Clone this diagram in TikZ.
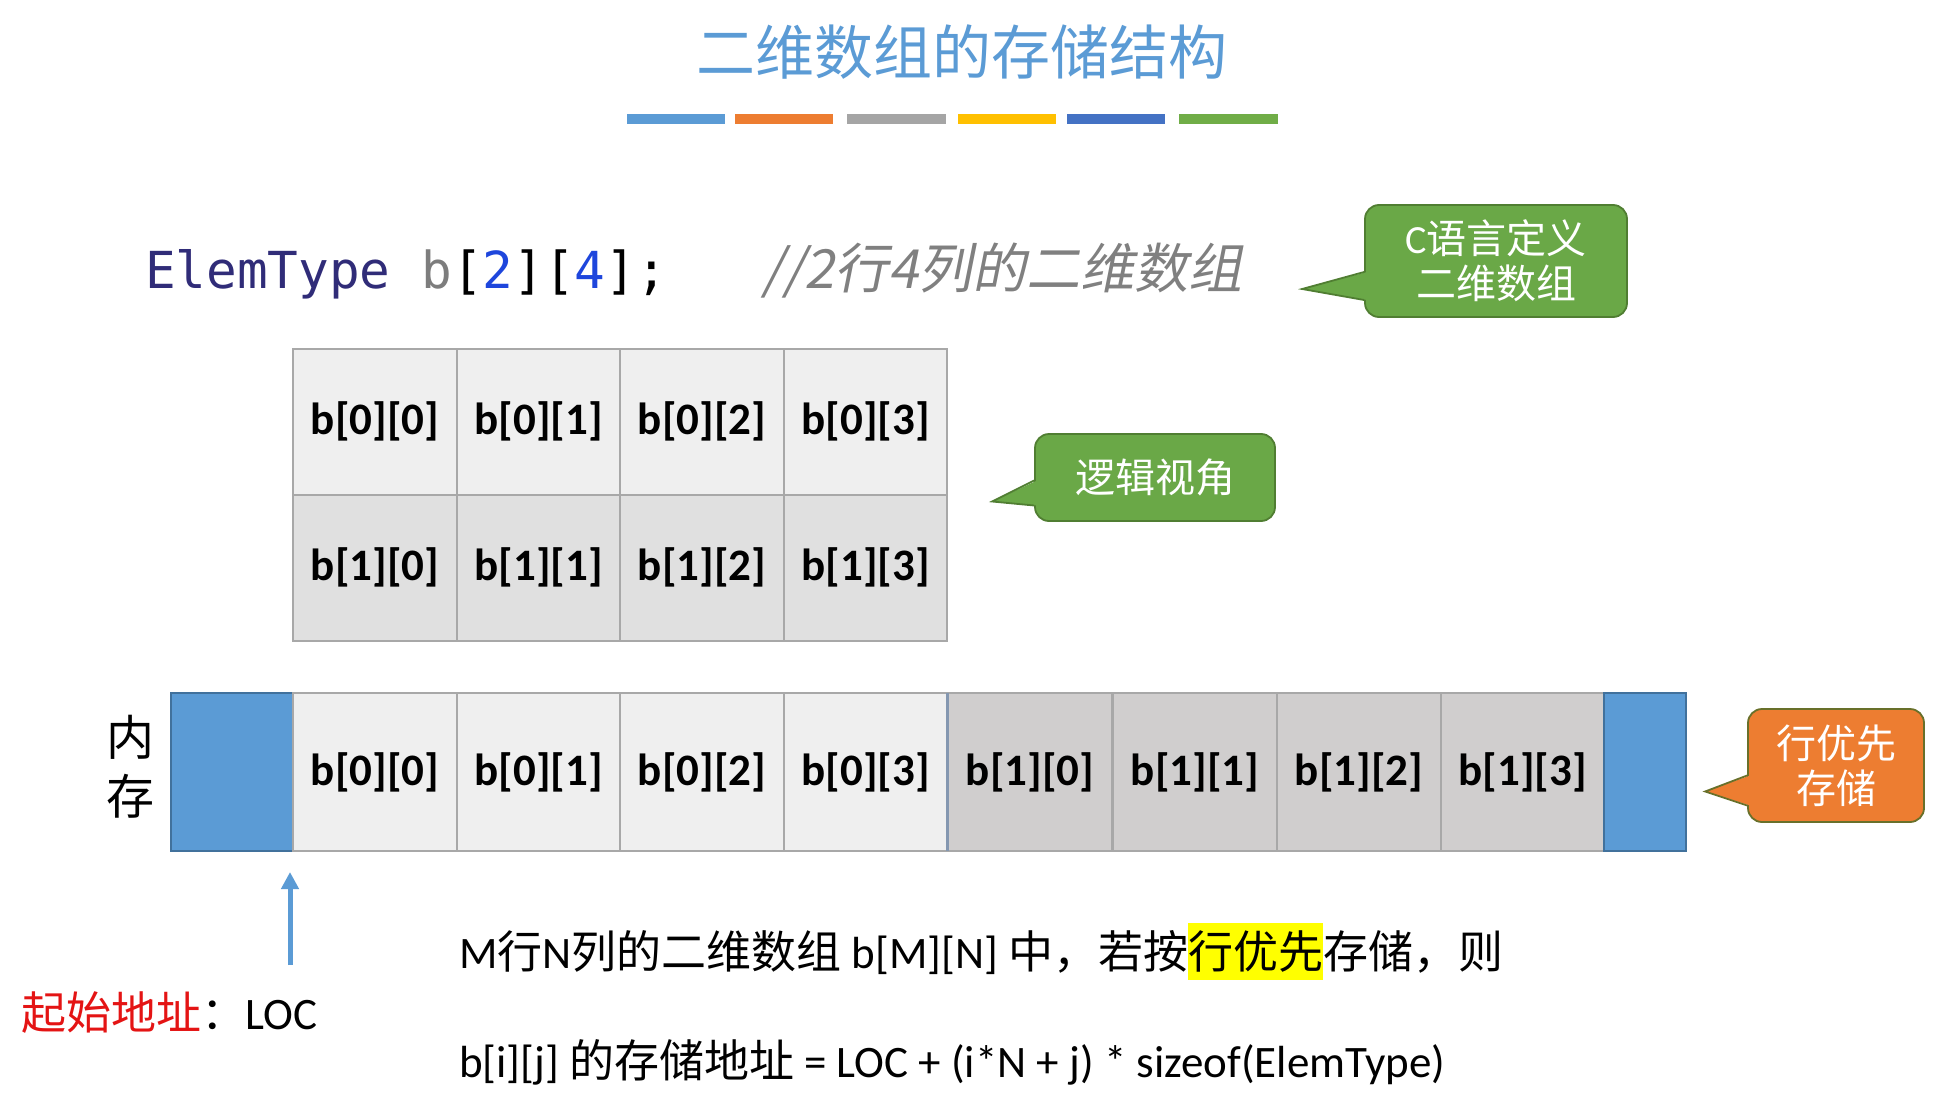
\documentclass[tikz,border=0pt]{standalone}
\usepackage{fontspec}
\setmainfont{Carlito}
\newfontfamily\cjk{Noto Sans CJK SC}
\newfontfamily\cjkit[FakeSlant=0.2]{Noto Sans CJK SC}
\newfontfamily\codefnt{DejaVu Sans Mono}
\usetikzlibrary{arrows.meta,calc}
\definecolor{titleblue}{RGB}{91,155,213}
\definecolor{barA}{RGB}{91,155,213}
\definecolor{barB}{RGB}{237,125,49}
\definecolor{barC}{RGB}{165,165,165}
\definecolor{barD}{RGB}{255,192,0}
\definecolor{barE}{RGB}{68,114,196}
\definecolor{barF}{RGB}{112,173,71}
\definecolor{elemc}{RGB}{48,44,120}
\definecolor{bgrayc}{RGB}{125,125,125}
\definecolor{dbluec}{RGB}{30,70,220}
\definecolor{cgrayc}{RGB}{128,128,128}
\definecolor{cgreen}{RGB}{106,168,71}
\definecolor{cgreendark}{RGB}{80,126,50}
\definecolor{corange}{RGB}{237,125,49}
\definecolor{corangedark}{RGB}{104,112,42}
\definecolor{rowA}{RGB}{239,239,239}
\definecolor{rowB}{RGB}{224,224,224}
\definecolor{memB}{RGB}{208,206,206}
\definecolor{gridline}{RGB}{168,168,168}
\definecolor{memblue}{RGB}{91,155,213}
\definecolor{memblueline}{RGB}{65,113,156}
\definecolor{sepline}{RGB}{132,151,176}
\definecolor{redc}{RGB}{228,20,20}
\definecolor{hl}{RGB}{255,255,0}
\begin{document}
\begin{tikzpicture}[x=1pt,y=-1pt,
  cellbase/.style={draw=gridline, line width=2pt, inner sep=0pt, outer sep=0pt,
    minimum height=146pt, font=\bfseries\fontsize{45}{54}\selectfont},
  gcellA/.style={cellbase, fill=rowA, minimum width=163.5pt},
  gcellB/.style={cellbase, fill=rowB, minimum width=163.5pt},
  mcellA/.style={cellbase, fill=rowA, minimum width=163.5pt, minimum height=158pt},
  mcellB/.style={cellbase, fill=memB, minimum width=164pt, minimum height=158pt},
  mblue/.style={draw=memblueline, fill=memblue, line width=2pt, inner sep=0pt, outer sep=0pt, minimum height=158pt},
  callout/.style={rounded corners=14pt, line width=1.8pt, inner sep=0pt, align=center,
    text=white, font=\cjk\fontsize{40}{45}\selectfont},
  plain/.style={inner sep=0pt, outer sep=0pt},
  upArrow/.style={draw=memblue, line width=5pt, -{Triangle[width=17pt,length=17pt]}}
]
\useasboundingbox (0,0) rectangle (1944,1105);

% title
\node[plain, font=\cjk\fontsize{59}{70}\selectfont, text=titleblue] (title) at (962,52) {二维数组的存储结构};
\foreach \c/\a/\b in {barA/627/725,barB/735/833,barC/847/946,barD/958/1056,barE/1067/1165,barF/1179/1278}
  \fill[\c] (\a,114) rectangle (\b,124);

% code line
\node[plain, anchor=base west, font=\codefnt\fontsize{51}{60}\selectfont] (code) at (145,288)
  {\textcolor{elemc}{ElemType} \textcolor{bgrayc}{b}[\textcolor{dbluec}{2}][\textcolor{dbluec}{4}];};
\node[plain, anchor=base west, text=cgrayc, font=\cjkit\fontsize{54}{60}\selectfont] (comment) at (762,288)
  {//2行4列的二维数组};

% callout 1
\node[callout, fill=cgreen, draw=cgreendark, minimum width=262pt, minimum height=112pt] (c1) at (1496,261)
  {{\rmfamily C}语言定义\\二维数组};
\fill[cgreen] ($(c1.west)+(3,11)$) -- ($(c1.west)+(-62,28)$) -- ($(c1.west)+(3,39)$) -- cycle;
\draw[cgreendark, line width=1.8pt] ($(c1.west)+(0,11)$) -- ($(c1.west)+(-62,28)$) -- ($(c1.west)+(0,39)$);

% logical grid
\foreach \i/\x in {0/375,1/538.5,2/702,3/865.5} {
  \node[gcellA] (g0\i) at (\x,421.5) {b[0][\i]};
  \node[gcellB] (g1\i) at (\x,567.5) {b[1][\i]};
}

% callout 2
\node[callout, fill=cgreen, draw=cgreendark, minimum width=240pt, minimum height=87pt] (c2) at (1155,477.5)
  {逻辑视角};
\fill[cgreen] ($(c2.west)+(3,3)$) -- ($(c2.west)+(-42,24)$) -- ($(c2.west)+(3,28)$) -- cycle;
\draw[cgreendark, line width=1.8pt] ($(c2.west)+(0,3)$) -- ($(c2.west)+(-42,24)$) -- ($(c2.west)+(0,28)$);

% memory strip
\node[plain, align=center, font=\cjk\fontsize{48}{59}\selectfont] (mem) at (130,767) {内\\存};
\node[mblue, minimum width=122pt] (mL) at (232,772) {};
\foreach \i/\x in {0/375,1/538.5,2/702,3/865.5}
  \node[mcellA] (m0\i) at (\x,772) {b[0][\i]};
\foreach \i/\x in {0/1030,1/1195,2/1359,3/1522.5}
  \node[mcellB] (m1\i) at (\x,772) {b[1][\i]};
\node[mblue, minimum width=82pt] (mR) at (1645,772) {};
\draw[sepline, line width=2.5pt] (m03.north east) -- (m03.south east);

% callout 3
\node[callout, fill=corange, draw=corangedark, minimum width=176pt, minimum height=113pt] (c3) at (1836,765.5)
  {行优先\\存储};
\fill[corange] ($(c3.west)+(3,10)$) -- ($(c3.west)+(-42,26)$) -- ($(c3.west)+(3,40)$) -- cycle;
\draw[corangedark, line width=1.8pt] ($(c3.west)+(0,10)$) -- ($(c3.west)+(-42,26)$) -- ($(c3.west)+(0,40)$);

% start address arrow
\node[plain, anchor=base west, font=\fontsize{45}{54}\selectfont] (loc) at (21,1029)
  {\textcolor{redc}{\cjk 起始地址}{\cjk ：}LOC};
\coordinate (arrS) at (290,965);
\coordinate (arrE) at (290,872);
\draw[upArrow] (arrS) -- (arrE);

% formula text
\node[plain, anchor=base west, font=\fontsize{45}{54}\selectfont] (line1) at (459,968)
  {M{\cjk 行}N{\cjk 列的二维数组} b[M][N] {\cjk 中，若按}{\setlength{\fboxsep}{0pt}\colorbox{hl}{\rule[-12pt]{0pt}{57pt}\cjk 行优先}}{\cjk 存储，则}};
\node[plain, anchor=base west, font=\fontsize{45}{54}\selectfont] (line2) at (459,1077)
  {b[i][j] {\cjk 的存储地址} = LOC + (i*N + j) * sizeof(ElemType)};
\end{tikzpicture}
\end{document}
